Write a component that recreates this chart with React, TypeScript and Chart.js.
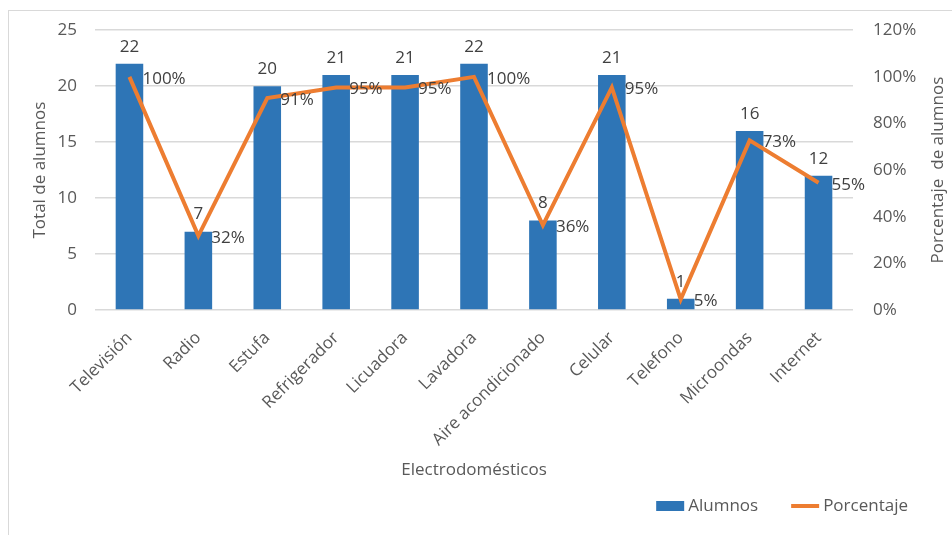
import React, { useEffect, useRef } from "react";
import { Chart, registerables } from "chart.js";

Chart.register(...registerables);

const categories = [
  "Televisión",
  "Radio",
  "Estufa",
  "Refrigerador",
  "Licuadora",
  "Lavadora",
  "Aire acondicionado",
  "Celular",
  "Telefono",
  "Microondas",
  "Internet",
];
const alumnos = [22, 7, 20, 21, 21, 22, 8, 21, 1, 16, 12];
const porcentaje = [100, 31.82, 90.91, 95.45, 95.45, 100, 36.36, 95.45, 4.55, 72.73, 54.55];
const leftTicks = [0, 5, 10, 15, 20, 25];
const rightTicks = [0, 20, 40, 60, 80, 100, 120];
const seriesNames = ["Alumnos", "Porcentaje"];
const rightTitle = "Porcentaje  de alumnos";

const FONT = "'Open Sans', 'Noto Sans', sans-serif";
const FS = 17;
const TICK_COLOR = "#595959";
const LABEL_COLOR = "#404040";
const GRID = "#d9d9d9";
const BLUE = "#2E75B6";
const ORANGE = "#ED7D31";

const dataLabels = {
  id: "dataLabels",
  afterDatasetsDraw(chart: any) {
    const ctx = chart.ctx;
    ctx.save();
    ctx.font = `${FS}px ${FONT}`;
    ctx.fillStyle = LABEL_COLOR;
    const barMeta = chart.getDatasetMeta(0);
    ctx.textAlign = "center";
    ctx.textBaseline = "middle";
    barMeta.data.forEach((el: any, i: number) => {
      ctx.fillText(String(alumnos[i]), el.x, el.y - 17);
    });
    const lineMeta = chart.getDatasetMeta(1);
    ctx.textAlign = "left";
    lineMeta.data.forEach((el: any, i: number) => {
      ctx.fillText(Math.round(porcentaje[i]) + "%", el.x + 13, el.y + 2);
    });
    ctx.restore();
  },
};

// right axis title (reads bottom-to-top) and bottom-right legend
const extras = {
  id: "extras",
  afterDraw(chart: any) {
    const ctx = chart.ctx;
    const area = chart.chartArea;
    ctx.save();
    ctx.font = `${FS}px ${FONT}`;
    ctx.fillStyle = TICK_COLOR;
    // right title
    ctx.save();
    ctx.translate(chart.width - 14, (area.top + area.bottom) / 2);
    ctx.rotate(-Math.PI / 2);
    ctx.textAlign = "center";
    ctx.textBaseline = "middle";
    ctx.fillText(rightTitle, 0, 0);
    ctx.restore();
    // legend
    const y = 506;
    const end = 908;
    ctx.textBaseline = "middle";
    ctx.textAlign = "left";
    const w2 = ctx.measureText(seriesNames[1]).width;
    const w1 = ctx.measureText(seriesNames[0]).width;
    const t2 = end - w2;
    const l2e = t2 - 4;
    const l2s = l2e - 28;
    const t1 = l2s - 33 - w1;
    const b1e = t1 - 4;
    const b1s = b1e - 28;
    ctx.fillStyle = BLUE;
    ctx.fillRect(b1s, y - 5, 28, 10);
    ctx.strokeStyle = ORANGE;
    ctx.lineWidth = 4;
    ctx.beginPath();
    ctx.moveTo(l2s, y);
    ctx.lineTo(l2e, y);
    ctx.stroke();
    ctx.fillStyle = TICK_COLOR;
    ctx.fillText(seriesNames[0], t1, y);
    ctx.fillText(seriesNames[1], t2, y);
    ctx.restore();
  },
};

export default function App() {
  const ref = useRef<HTMLCanvasElement>(null);
  useEffect(() => {
    if (!ref.current) return;
    const chart = new Chart(ref.current, {
      data: {
        labels: categories,
        datasets: [
          {
            type: "bar",
            label: seriesNames[0],
            data: alumnos,
            backgroundColor: BLUE,
            borderWidth: 0,
            yAxisID: "y",
            order: 1,
            barPercentage: 0.4,
            categoryPercentage: 1,
          } as any,
          {
            type: "line",
            label: seriesNames[1],
            data: porcentaje,
            borderColor: ORANGE,
            backgroundColor: ORANGE,
            borderWidth: 4,
            pointRadius: 0,
            pointHoverRadius: 0,
            tension: 0,
            yAxisID: "y1",
            order: 0,
          } as any,
        ],
      },
      options: {
        animation: false,
        responsive: false,
        maintainAspectRatio: false,
        layout: { padding: { top: 30, left: 0, right: 0, bottom: 47 } },
        plugins: {
          tooltip: { enabled: false },
          legend: { display: false },
        },
        scales: {
          x: {
            grid: { display: false, drawTicks: false },
            border: { display: false },
            ticks: {
              color: TICK_COLOR,
              font: { family: FONT, size: FS },
              maxRotation: 45,
              minRotation: 45,
              padding: 18,
              autoSkip: false,
            },
            title: {
              display: true,
              text: "Electrodomésticos",
              color: TICK_COLOR,
              font: { family: FONT, size: FS },
              padding: { top: 0, bottom: 8 },
            },
            afterFit(scale: any) {
              scale.height = 178;
            },
          },
          y: {
            position: "left",
            min: 0,
            max: 25,
            afterBuildTicks(scale: any) {
              scale.ticks = leftTicks.map((v) => ({ value: v }));
            },
            grid: { color: GRID, drawTicks: false, lineWidth: 1.5 },
            border: { display: false },
            ticks: {
              color: TICK_COLOR,
              font: { family: FONT, size: FS },
              padding: 18,
            },
            title: {
              display: true,
              text: "Total de alumnos",
              color: TICK_COLOR,
              font: { family: FONT, size: FS },
              padding: { top: 30, bottom: 0 },
            },
            afterFit(scale: any) {
              scale.width = 95;
            },
          },
          y1: {
            position: "right",
            min: 0,
            max: 120,
            afterBuildTicks(scale: any) {
              scale.ticks = rightTicks.map((v) => ({ value: v }));
            },
            grid: { display: false, drawTicks: false },
            border: { display: false },
            ticks: {
              color: TICK_COLOR,
              font: { family: FONT, size: FS },
              padding: 20,
              callback: (v: any) => v + "%",
            },
            afterFit(scale: any) {
              scale.width = 99;
            },
          },
        },
      },
      plugins: [dataLabels, extras],
    });
    return () => chart.destroy();
  }, []);

  return (
    <div
      style={{
        position: "fixed",
        left: 0,
        top: 0,
        width: 952,
        height: 535,
        overflow: "hidden",
        background: "#fff",
      }}
    >
      <div
        style={{
          position: "absolute",
          left: 8,
          top: 10,
          width: 1000,
          height: 600,
          border: "1px solid #d9d9d9",
          boxSizing: "border-box",
        }}
      />
      <canvas
        ref={ref}
        width={952}
        height={535}
        style={{ position: "absolute", left: 0, top: 0 }}
      />
    </div>
  );
}
